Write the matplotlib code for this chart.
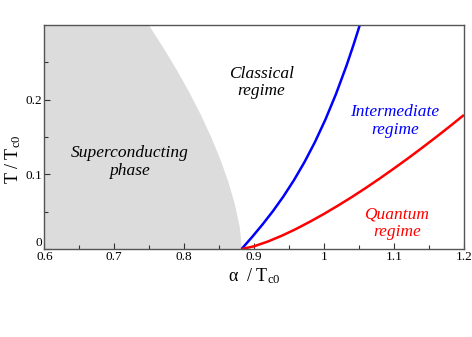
import matplotlib
matplotlib.use("Agg")
import matplotlib.pyplot as plt
from matplotlib.ticker import MultipleLocator, FixedLocator

plt.rcParams['font.family'] = ['Liberation Serif', 'DejaVu Serif']
plt.rcParams['mathtext.fontset'] = 'custom'
plt.rcParams['mathtext.rm'] = 'Liberation Serif'
plt.rcParams['mathtext.it'] = 'Liberation Serif:italic'

# Superconducting phase boundary (alpha, T)
sc_T = [0.0, 0.03, 0.06, 0.09, 0.12, 0.15, 0.18, 0.21, 0.24, 0.27, 0.3]
sc_alpha = [0.882, 0.8787, 0.8719, 0.8626, 0.8513, 0.8381, 0.8233, 0.8068, 0.7889, 0.7696, 0.749]

# Classical / intermediate crossover (blue)
blue_alpha = [0.882, 0.897, 0.912, 0.927, 0.942, 0.957, 0.972, 0.987, 1.002, 1.017, 1.032, 1.042, 1.051]
blue_T = [0.0, 0.0160, 0.0329, 0.0509, 0.0706, 0.0923, 0.1164, 0.1433, 0.1735, 0.2074, 0.2453, 0.2730, 0.2996]

# Intermediate / quantum crossover (red)
red_alpha = [0.882, 0.90, 0.92, 0.94, 0.96, 0.98, 1.00, 1.02, 1.04, 1.06, 1.08,
             1.10, 1.12, 1.14, 1.16, 1.18, 1.20]
red_T = [0.0, 0.0037, 0.0102, 0.0180, 0.0269, 0.0367, 0.0471, 0.0582, 0.0698, 0.0820,
         0.0947, 0.1079, 0.1214, 0.1354, 0.1497, 0.1644, 0.1795]

xticks = [0.6, 0.7, 0.8, 0.9, 1.0, 1.1, 1.2]
xticklabels = ["0.6", "0.7", "0.8", "0.9", "1", "1.1", "1.2"]
yticks = [0.0, 0.1, 0.2]
yticklabels = ["0", "0.1", "0.2"]

fig = plt.figure(figsize=(4.72, 3.37), dpi=100)
ax = fig.add_axes([0.0939, 0.261, 0.889, 0.665])

ax.fill_betweenx(sc_T, 0.6, sc_alpha, color='#dcdcdc', linewidth=0)
ax.plot(blue_alpha, blue_T, color='#0000ff', lw=1.8, solid_capstyle='butt')
ax.plot(red_alpha, red_T, color='#ff0000', lw=1.8, solid_capstyle='butt')

ax.set_xlim(0.6, 1.2)
ax.set_ylim(0, 0.3)
ax.set_xticks(xticks)
ax.set_xticklabels(xticklabels)
ax.set_yticks(yticks)
ax.set_yticklabels(yticklabels)
ax.get_yticklabels()[0].set_verticalalignment('bottom')
ax.xaxis.set_minor_locator(MultipleLocator(0.05))
ax.yaxis.set_minor_locator(FixedLocator([0.05, 0.15, 0.25]))
ax.tick_params(which='both', direction='in', top=False, right=False,
               colors='#333333', labelcolor='black')
ax.tick_params(which='major', length=4, width=0.8, labelsize=9.5, pad=1.5)
ax.tick_params(which='minor', length=3, width=0.8)
for s in ax.spines.values():
    s.set_color('#555555')
    s.set_linewidth(1.0)

ax.set_xlabel(r"α  / T$_{\mathrm{c0}}$", fontsize=13, labelpad=2)
ax.set_ylabel(r"T / T$_{\mathrm{c0}}$", fontsize=13, labelpad=4)
ax.yaxis.set_label_coords(-0.052, 0.40)

ax.text(0.722, 0.1165, "Superconducting\nphase", style='italic', fontsize=12.5,
        ha='center', va='center', linespacing=1.1)
ax.text(0.910, 0.223, "Classical\nregime", style='italic', fontsize=12.5,
        ha='center', va='center', linespacing=1.1)
ax.text(1.101, 0.1714, "Intermediate\nregime", style='italic', fontsize=12.5,
        color='#0000ff', ha='center', va='center', linespacing=1.1)
ax.text(1.104, 0.0348, "Quantum\nregime", style='italic', fontsize=12.5,
        color='#ff0000', ha='center', va='center', linespacing=1.1)

fig.savefig("out.png", dpi=100)
